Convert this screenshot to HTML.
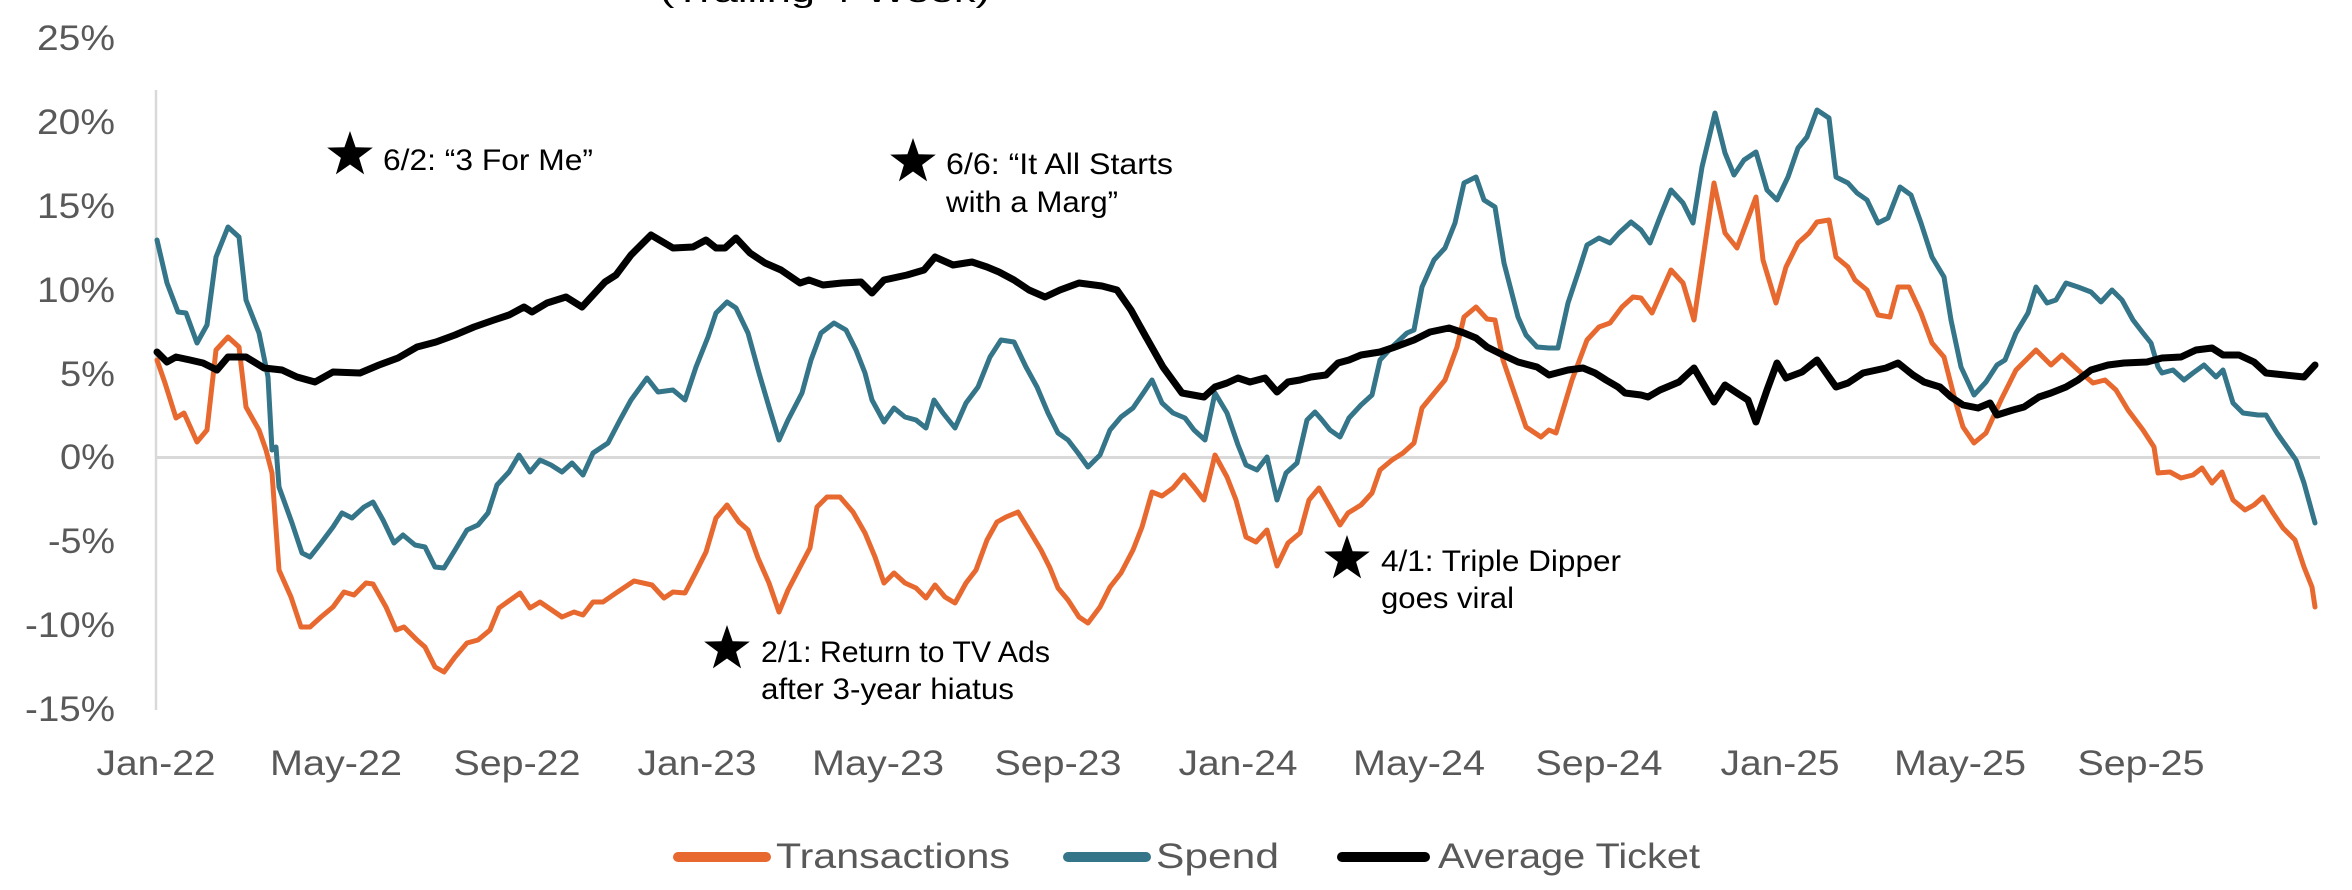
<!DOCTYPE html>
<html><head><meta charset="utf-8"><style>
html,body{margin:0;padding:0;background:#fff;}
svg{display:block;}
text{font-family:"Liberation Sans",sans-serif;}
.t{fill:#595959;font-size:35px;}
.a{fill:#000;font-size:30px;}
.ln{fill:none;stroke-linejoin:round;stroke-linecap:round;}
</style></head><body>
<svg width="2352" height="890" viewBox="0 0 2352 890" xmlns="http://www.w3.org/2000/svg">
<text x="660" y="2" class="a" font-size="34" textLength="330" lengthAdjust="spacingAndGlyphs">(Trailing 4-Week)</text>
<line x1="156" y1="90" x2="156" y2="710" stroke="#d9d9d9" stroke-width="2.5"/>
<line x1="156" y1="457.5" x2="2320" y2="457.5" stroke="#d9d9d9" stroke-width="3"/>
<g class="t" text-anchor="end">
<text x="115" y="50" textLength="78" lengthAdjust="spacingAndGlyphs">25%</text>
<text x="115" y="134" textLength="78" lengthAdjust="spacingAndGlyphs">20%</text>
<text x="115" y="218" textLength="78" lengthAdjust="spacingAndGlyphs">15%</text>
<text x="115" y="302" textLength="78" lengthAdjust="spacingAndGlyphs">10%</text>
<text x="115" y="386" textLength="55" lengthAdjust="spacingAndGlyphs">5%</text>
<text x="115" y="469" textLength="55" lengthAdjust="spacingAndGlyphs">0%</text>
<text x="115" y="553" textLength="67" lengthAdjust="spacingAndGlyphs">-5%</text>
<text x="115" y="637" textLength="90" lengthAdjust="spacingAndGlyphs">-10%</text>
<text x="115" y="721" textLength="90" lengthAdjust="spacingAndGlyphs">-15%</text>
</g>
<g class="t" text-anchor="middle" font-size="37">
<text x="156" y="775" textLength="119" lengthAdjust="spacingAndGlyphs">Jan-22</text>
<text x="336" y="775" textLength="132" lengthAdjust="spacingAndGlyphs">May-22</text>
<text x="517" y="775" textLength="127" lengthAdjust="spacingAndGlyphs">Sep-22</text>
<text x="697" y="775" textLength="119" lengthAdjust="spacingAndGlyphs">Jan-23</text>
<text x="878" y="775" textLength="132" lengthAdjust="spacingAndGlyphs">May-23</text>
<text x="1058" y="775" textLength="127" lengthAdjust="spacingAndGlyphs">Sep-23</text>
<text x="1238" y="775" textLength="119" lengthAdjust="spacingAndGlyphs">Jan-24</text>
<text x="1419" y="775" textLength="132" lengthAdjust="spacingAndGlyphs">May-24</text>
<text x="1599" y="775" textLength="127" lengthAdjust="spacingAndGlyphs">Sep-24</text>
<text x="1780" y="775" textLength="119" lengthAdjust="spacingAndGlyphs">Jan-25</text>
<text x="1960" y="775" textLength="132" lengthAdjust="spacingAndGlyphs">May-25</text>
<text x="2141" y="775" textLength="127" lengthAdjust="spacingAndGlyphs">Sep-25</text>
</g>
<polyline class="ln" stroke="#E8692F" stroke-width="5" points="157,360 165,383 176,418 184,413 197,442 207,430 216,350 228,337 239,347 246,407 259,430 266,450 272,473 279,570 291,597 301,627 310,627 321,617 333,607 344,592 354,595 366,583 373,584 386,607 396,630 404,627 417,640 425,647 435,667 444,672 455,657 467,643 478,640 490,630 499,608 520,593 530,608 540,602 562,617 574,612 583,615 593,602 603,602 616,593 634,581 652,585 664,598 673,592 685,593 696,572 706,552 716,518 727,505 739,522 748,530 758,558 769,583 779,612 788,590 800,567 810,548 817,507 827,497 840,497 853,512 865,533 875,557 884,583 894,573 905,583 916,588 926,598 935,585 945,597 955,603 966,583 976,570 987,540 997,522 1006,517 1018,512 1029,530 1041,550 1050,568 1058,588 1068,600 1079,617 1088,623 1100,607 1110,587 1121,573 1133,550 1142,527 1152,492 1162,496 1173,488 1184,475 1194,487 1204,500 1215,455 1227,477 1236,500 1246,537 1256,542 1267,530 1277,566 1288,543 1300,533 1309,500 1319,488 1330,507 1340,525 1348,513 1361,505 1372,493 1380,470 1392,460 1403,453 1414,443 1422,408 1445,380 1457,347 1464,317 1476,307 1487,319 1495,320 1503,360 1526,427 1541,437 1549,430 1556,433 1572,380 1587,340 1599,327 1610,323 1622,307 1633,297 1641,298 1652,313 1671,270 1683,283 1694,320 1714,183 1725,233 1737,248 1756,197 1763,260 1776,303 1786,267 1798,243 1809,233 1817,222 1829,220 1836,257 1848,267 1855,280 1867,290 1878,315 1890,317 1898,287 1909,287 1921,313 1932,343 1944,357 1955,400 1963,427 1974,443 1986,433 2001,400 2016,370 2036,350 2051,365 2062,355 2078,370 2093,383 2105,380 2116,390 2128,410 2143,430 2154,447 2158,473 2170,472 2181,478 2193,475 2202,468 2212,483 2222,472 2233,500 2245,510 2254,505 2263,497 2273,513 2283,528 2295,540 2304,567 2312,587 2315,607"/>
<polyline class="ln" stroke="#347589" stroke-width="5" points="157,240 167,283 178,312 186,313 197,343 207,325 216,257 228,227 239,237 246,300 259,333 268,377 272,450 276,447 279,487 292,523 302,553 310,557 321,543 333,527 342,513 352,518 364,507 373,502 383,520 394,543 403,535 415,545 425,547 435,567 444,568 455,550 467,530 478,525 488,513 497,485 509,472 519,455 530,472 540,460 551,465 562,472 572,463 583,475 593,453 608,443 620,420 631,400 647,378 658,392 673,390 685,400 696,367 708,337 716,313 727,302 736,308 748,333 759,373 769,407 779,440 788,420 802,393 811,360 821,333 834,323 846,330 856,350 865,373 872,400 884,422 894,408 905,417 916,420 926,428 934,400 943,413 955,428 966,403 978,387 990,357 1001,340 1014,342 1026,367 1037,387 1048,413 1058,433 1068,440 1078,453 1088,467 1100,455 1110,430 1121,417 1133,408 1144,392 1152,380 1162,403 1173,413 1185,418 1194,430 1205,440 1215,393 1227,413 1238,445 1246,465 1257,470 1267,457 1277,500 1286,473 1297,463 1307,420 1315,412 1322,420 1330,430 1340,437 1349,418 1361,405 1372,395 1380,360 1392,347 1407,333 1414,330 1422,287 1434,260 1445,248 1455,223 1464,183 1476,177 1484,200 1495,207 1504,263 1518,317 1526,335 1537,347 1549,348 1558,348 1568,303 1579,270 1587,245 1599,238 1610,243 1619,233 1631,222 1641,230 1650,243 1660,217 1671,190 1683,203 1693,223 1702,167 1715,113 1725,153 1734,175 1744,160 1756,152 1767,190 1777,200 1788,177 1798,148 1807,137 1817,110 1829,118 1836,177 1848,183 1857,193 1867,200 1878,223 1888,218 1900,187 1911,195 1921,223 1932,257 1944,277 1951,320 1961,367 1974,395 1986,382 1997,365 2005,360 2016,333 2028,313 2036,287 2047,303 2056,300 2066,283 2078,287 2091,292 2101,302 2112,290 2122,300 2133,320 2143,333 2151,343 2158,367 2162,373 2173,370 2184,380 2193,373 2204,365 2216,377 2223,370 2233,403 2243,413 2258,415 2266,415 2277,433 2289,450 2296,460 2304,483 2315,523"/>
<polyline class="ln" stroke="#000" stroke-width="7" points="157,352 167,362 176,357 190,360 203,363 217,370 228,357 246,357 264,368 282,370 297,377 315,382 333,372 360,373 379,365 398,358 417,347 436,342 455,335 474,327 494,320 509,315 524,307 532,312 547,303 566,297 582,307 605,282 616,275 631,255 651,235 673,248 693,247 706,240 716,248 725,248 736,238 750,253 765,263 781,270 800,283 809,280 823,285 842,283 861,282 872,293 884,280 907,275 924,270 935,257 953,265 972,262 987,267 999,272 1014,280 1029,290 1045,297 1060,290 1079,283 1102,286 1117,290 1131,310 1146,337 1163,367 1182,393 1204,397 1215,387 1227,383 1238,378 1250,382 1265,378 1277,392 1288,382 1300,380 1311,377 1326,375 1338,363 1349,360 1361,355 1380,352 1395,347 1414,340 1430,332 1449,328 1464,333 1476,338 1487,347 1503,355 1518,362 1537,367 1549,375 1568,370 1583,368 1595,373 1606,380 1618,387 1625,393 1641,395 1648,397 1660,390 1679,382 1694,368 1714,402 1725,385 1737,393 1748,400 1756,422 1767,390 1777,363 1786,378 1802,372 1817,360 1836,387 1848,383 1863,373 1886,368 1898,363 1913,375 1924,382 1940,387 1951,397 1963,405 1978,408 1990,403 1997,415 2013,410 2024,407 2039,397 2051,393 2066,387 2078,380 2091,370 2108,365 2124,363 2147,362 2162,358 2181,357 2196,350 2212,348 2223,355 2239,355 2254,362 2266,373 2285,375 2304,377 2315,365"/>
<defs><polygon id="st" points="0,-24 5.6,-7.7 22.8,-7.4 9.1,2.9 14.1,19.4 0,9.5 -14.1,19.4 -9.1,2.9 -22.8,-7.4 -5.6,-7.7"/></defs>
<use href="#st" x="350" y="155"/>
<text x="383" y="170" class="a" textLength="210" lengthAdjust="spacingAndGlyphs">6/2: “3 For Me”</text>
<use href="#st" x="913" y="162"/>
<text x="946" y="174" class="a" textLength="227" lengthAdjust="spacingAndGlyphs">6/6: “It All Starts</text>
<text x="946" y="212" class="a" textLength="172" lengthAdjust="spacingAndGlyphs">with a Marg”</text>
<use href="#st" x="727" y="649"/>
<text x="761" y="662" class="a" textLength="289" lengthAdjust="spacingAndGlyphs">2/1: Return to TV Ads</text>
<text x="761" y="699" class="a" textLength="253" lengthAdjust="spacingAndGlyphs">after 3-year hiatus</text>
<use href="#st" x="1347" y="559"/>
<text x="1381" y="571" class="a" textLength="240" lengthAdjust="spacingAndGlyphs">4/1: Triple Dipper</text>
<text x="1381" y="608" class="a" textLength="133" lengthAdjust="spacingAndGlyphs">goes viral</text>
<line x1="678" y1="857" x2="766" y2="857" stroke="#E8692F" stroke-width="10" stroke-linecap="round"/>
<text x="776" y="868" class="t" font-size="39" textLength="234" lengthAdjust="spacingAndGlyphs">Transactions</text>
<line x1="1068" y1="857" x2="1146" y2="857" stroke="#347589" stroke-width="10" stroke-linecap="round"/>
<text x="1156" y="868" class="t" font-size="39" textLength="123" lengthAdjust="spacingAndGlyphs">Spend</text>
<line x1="1342" y1="857" x2="1425" y2="857" stroke="#000" stroke-width="10" stroke-linecap="round"/>
<text x="1438" y="868" class="t" font-size="39" textLength="262" lengthAdjust="spacingAndGlyphs">Average Ticket</text>
</svg>
</body></html>
